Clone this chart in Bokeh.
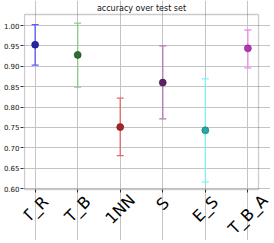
import math
from bokeh.plotting import figure
from bokeh.models import ColumnDataSource, Whisker, TeeHead, FixedTicker, Range1d, BoxAnnotation
from bokeh.core.properties import value
from bokeh.embed import file_html
from bokeh.resources import INLINE

title_text = "accuracy over test set"
categories = ["T_R", "T_B", "1NN", "S", "E_S", "T_B_A"]
means = [0.953, 0.928, 0.751, 0.860, 0.743, 0.944]
lower = [0.903, 0.849, 0.681, 0.771, 0.616, 0.896]
upper = [1.002, 1.006, 0.822, 0.950, 0.869, 0.989]
err_colors = ["#5a5aff", "#8cca8c", "#e46a6a", "#b678b6", "#7cf4f4", "#f08cf0"]
pt_colors = ["#2424a8", "#2e6e2e", "#a82424", "#5e2068", "#24a8a8", "#b434b4"]
edge_colors = ["#141470", "#1c481c", "#701818", "#3c1444", "#186c6c", "#782478"]
y_ticks = [0.60, 0.65, 0.70, 0.75, 0.80, 0.85, 0.90, 0.95, 1.00]

# plot box (data limits) and its pixel geometry
X0, X1 = -0.25, 5.25
Y0, Y1 = 0.598, 1.027
W, H = 270, 240
BOX_LEFT, BOX_TOP, BOX_W, BOX_H = 24, 14, 234, 175
BL = BOX_LEFT - 1
kx = BOX_W / (X1 - X0)
ky = BOX_H / (Y1 - Y0)
x_start = X0 - (BOX_LEFT - BL) / kx
x_end = x_start + (W - BL) / kx
y_end = Y1 + BOX_TOP / ky
y_start = y_end - H / ky

xs = list(range(len(categories)))
src = ColumnDataSource(dict(x=xs, mean=means, lower=lower, upper=upper,
                            ec=err_colors, pc=pt_colors, edge=edge_colors))

p = figure(width=W, height=H, output_backend="svg", toolbar_location=None,
           x_range=Range1d(x_start, x_end), y_range=Range1d(y_start, y_end),
           min_border_left=BL, min_border_right=0, min_border_top=0, min_border_bottom=0)

p.background_fill_color = "white"
p.border_fill_color = "white"
p.outline_line_color = None

p.xgrid.grid_line_color = "#c4c4c4"
p.ygrid.grid_line_color = "#c4c4c4"
p.xgrid.grid_line_width = 1
p.ygrid.grid_line_width = 1
p.xgrid.bounds = (Y0, Y1)
p.ygrid.bounds = (X0, X1)

# x axis drawn at the bottom edge of the plot box (ticks only)
p.xaxis.fixed_location = Y0
p.xaxis.ticker = FixedTicker(ticks=xs)
p.xaxis.major_label_overrides = {i: "" for i in xs}
p.xaxis.major_label_text_font_size = "1px"
p.xaxis.major_label_standoff = 0

p.yaxis.ticker = FixedTicker(ticks=y_ticks)
p.yaxis.major_label_overrides = {t: f"{t:.2f}" for t in y_ticks}
p.yaxis.major_label_text_font = "DejaVu Sans"
p.yaxis.major_label_text_font_size = "7px"
p.yaxis.major_label_text_color = "#111111"
p.yaxis.major_label_standoff = 1

for ax in (p.xaxis[0], p.yaxis[0]):
    ax.axis_line_color = None
    ax.minor_tick_line_color = None
    ax.major_tick_in = 0
    ax.major_tick_out = 3
    ax.major_tick_line_color = "#333333"

# plot box frame
p.add_layout(BoxAnnotation(left=X0, right=X1, bottom=Y0, top=Y1,
                           fill_color=None, line_color="#555555", line_width=1.3))

w = Whisker(base="x", lower="lower", upper="upper", source=src, dimension="height",
            line_color="ec", line_width=1.3,
            lower_head=TeeHead(size=7, line_color="ec", line_width=1.3),
            upper_head=TeeHead(size=7, line_color="ec", line_width=1.3))
p.add_layout(w)

p.scatter("x", "mean", source=src, size=7, fill_color="pc", line_color="edge", line_width=0.6)

# rotated category labels, centred under each tick, tops aligned (as matplotlib)
lab_y = [Y0 - (11.5 + 2.7 * len(c)) / ky for c in categories]
p.text(x=xs, y=lab_y, text=categories, angle=math.pi / 4,
       text_align="center", text_baseline="middle",
       text_font=value("DejaVu Sans"), text_font_size="16px", text_color="black")

# title
p.text(x=[(X0 + X1) / 2], y=[Y1 + 6.5 / ky], text=[title_text],
       text_align="center", text_baseline="middle",
       text_font=value("DejaVu Sans"), text_font_size="8px", text_color="#111111")

open("out.html", "w").write(file_html(p, INLINE))
